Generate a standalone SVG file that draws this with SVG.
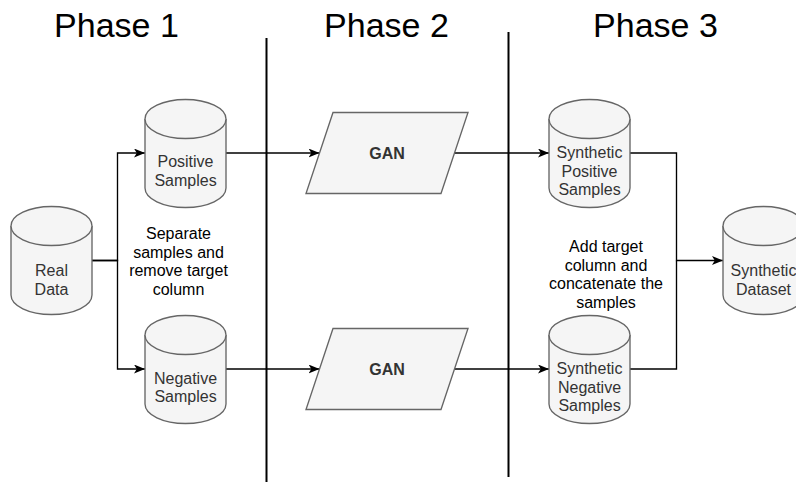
<svg xmlns="http://www.w3.org/2000/svg" width="796" height="482" viewBox="0 0 796 482">
  <style>
    .cyl { fill: #f5f5f5; stroke: #666666; stroke-width: 1.35; }
    .para { fill: #f5f5f5; stroke: #666666; stroke-width: 1.35; }
    .lbl { font-family: "Liberation Sans", Helvetica, Arial, sans-serif; font-size: 16px; fill: #333333; text-anchor: middle; }
    .bold { font-weight: bold; }
    .note { font-family: "Liberation Sans", Helvetica, Arial, sans-serif; font-size: 16px; fill: #000000; text-anchor: middle; }
    .title { font-family: "Liberation Sans", Helvetica, Arial, sans-serif; font-size: 34px; fill: #000000; text-anchor: middle; }
    .edge { fill: none; stroke: #000000; stroke-width: 1.35; }
    .phase { fill: none; stroke: #000000; stroke-width: 2; }
  </style>
  <defs>
    <marker id="arrow" markerUnits="userSpaceOnUse" markerWidth="12" markerHeight="10" refX="11" refY="4.5" orient="auto">
      <path d="M0,0 L11,4.5 L0,9 L2.8,4.5 Z" fill="#000000"/>
    </marker>
  </defs>
  <rect width="796" height="482" fill="#ffffff"/>

  <!-- phase titles and separators -->
  <g id="phases">
    <text class="title" x="116.5" y="37">Phase 1</text>
    <text class="title" x="386.5" y="37">Phase 2</text>
    <text class="title" x="655.5" y="37">Phase 3</text>
    <line class="phase" x1="266.5" y1="38" x2="266.5" y2="482"/>
    <line class="phase" x1="508.5" y1="32" x2="508.5" y2="477"/>
  </g>

  <!-- connectors -->
  <g id="connectors">
    <path class="edge" d="M92,260.5 H117.5 V153 H145" marker-end="url(#arrow)"/>
    <path class="edge" d="M92,260.5 H117.5 V369 H145" marker-end="url(#arrow)"/>
    <path class="edge" d="M226,153 H319.5" marker-end="url(#arrow)"/>
    <path class="edge" d="M454.5,153 H549" marker-end="url(#arrow)"/>
    <path class="edge" d="M226,369 H319.5" marker-end="url(#arrow)"/>
    <path class="edge" d="M454.5,369 H549" marker-end="url(#arrow)"/>
    <path class="edge" d="M630,153 H676.5 V260.5 H723" marker-end="url(#arrow)"/>
    <path class="edge" d="M630,369 H676.5 V260.5"/>
  </g>

  <!-- Real Data -->
  <g id="real-data">
    <path class="cyl" d="M11,226 A40.5,19.5 0 0 1 92,226 V295 A40.5,19.5 0 0 1 11,295 Z"/>
    <path class="cyl" fill="none" d="M11,226 A40.5,19.5 0 0 0 92,226"/>
    <text class="lbl" x="51.5" y="276">Real</text>
    <text class="lbl" x="51.5" y="294.5">Data</text>
  </g>

  <!-- Positive Samples -->
  <g id="positive-samples">
    <path class="cyl" d="M145,119 A40.5,19.5 0 0 1 226,119 V188 A40.5,19.5 0 0 1 145,188 Z"/>
    <path class="cyl" fill="none" d="M145,119 A40.5,19.5 0 0 0 226,119"/>
    <text class="lbl" x="185.5" y="167">Positive</text>
    <text class="lbl" x="185.5" y="185.5">Samples</text>
  </g>

  <!-- Negative Samples -->
  <g id="negative-samples">
    <path class="cyl" d="M145,335 A40.5,19.5 0 0 1 226,335 V404 A40.5,19.5 0 0 1 145,404 Z"/>
    <path class="cyl" fill="none" d="M145,335 A40.5,19.5 0 0 0 226,335"/>
    <text class="lbl" x="185.5" y="383.5">Negative</text>
    <text class="lbl" x="185.5" y="402">Samples</text>
  </g>

  <!-- Phase 1 note -->
  <g id="separate-note">
    <text class="note" x="178.5" y="239">Separate</text>
    <text class="note" x="178.5" y="257.5">samples and</text>
    <text class="note" x="178.5" y="276">remove target</text>
    <text class="note" x="178.5" y="294.5">column</text>
  </g>

  <!-- GAN (positive) -->
  <g id="gan-positive">
    <polygon class="para" points="333,112.5 468,112.5 441,193.5 306,193.5"/>
    <text class="lbl bold" x="387" y="158.5">GAN</text>
  </g>

  <!-- GAN (negative) -->
  <g id="gan-negative">
    <polygon class="para" points="333,328.5 468,328.5 441,409.5 306,409.5"/>
    <text class="lbl bold" x="387" y="374.5">GAN</text>
  </g>

  <!-- Synthetic Positive Samples -->
  <g id="synthetic-positive">
    <path class="cyl" d="M549,119 A40.5,19.5 0 0 1 630,119 V188 A40.5,19.5 0 0 1 549,188 Z"/>
    <path class="cyl" fill="none" d="M549,119 A40.5,19.5 0 0 0 630,119"/>
    <text class="lbl" x="589.5" y="158">Synthetic</text>
    <text class="lbl" x="589.5" y="176.5">Positive</text>
    <text class="lbl" x="589.5" y="195">Samples</text>
  </g>

  <!-- Synthetic Negative Samples -->
  <g id="synthetic-negative">
    <path class="cyl" d="M549,335 A40.5,19.5 0 0 1 630,335 V404 A40.5,19.5 0 0 1 549,404 Z"/>
    <path class="cyl" fill="none" d="M549,335 A40.5,19.5 0 0 0 630,335"/>
    <text class="lbl" x="589.5" y="374">Synthetic</text>
    <text class="lbl" x="589.5" y="392.5">Negative</text>
    <text class="lbl" x="589.5" y="411">Samples</text>
  </g>

  <!-- Phase 3 note -->
  <g id="concat-note">
    <text class="note" x="606" y="252">Add target</text>
    <text class="note" x="606" y="270.5">column and</text>
    <text class="note" x="606" y="289">concatenate the</text>
    <text class="note" x="606" y="307.5">samples</text>
  </g>

  <!-- Synthetic Dataset -->
  <g id="synthetic-dataset">
    <path class="cyl" d="M723,226 A40.5,19.5 0 0 1 804,226 V295 A40.5,19.5 0 0 1 723,295 Z"/>
    <path class="cyl" fill="none" d="M723,226 A40.5,19.5 0 0 0 804,226"/>
    <text class="lbl" x="763.5" y="276">Synthetic</text>
    <text class="lbl" x="763.5" y="294.5">Dataset</text>
  </g>
</svg>
